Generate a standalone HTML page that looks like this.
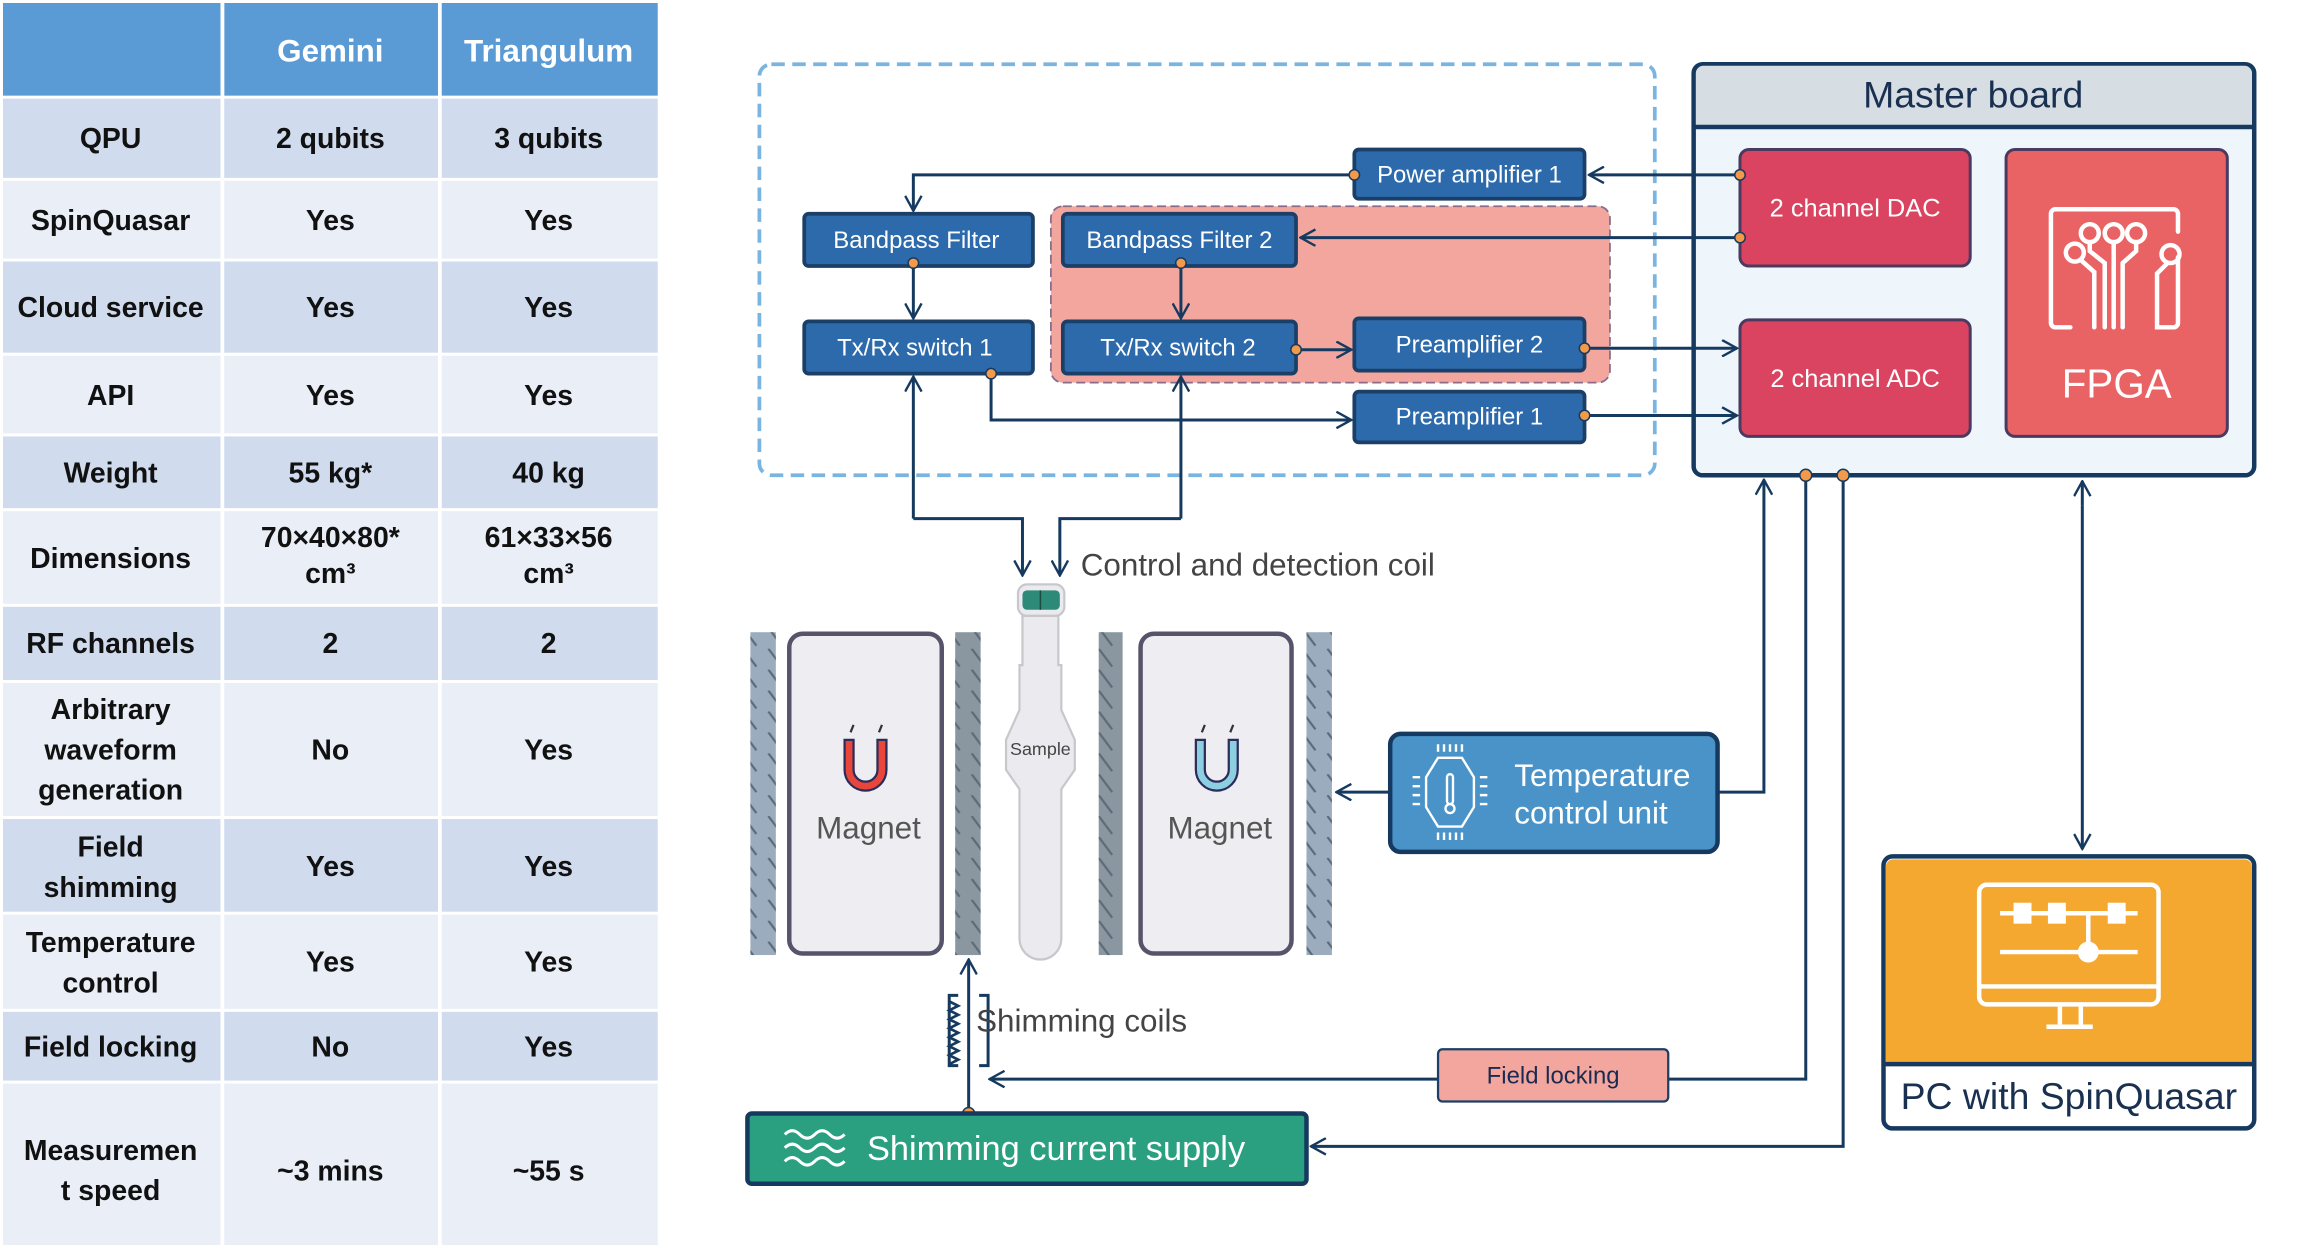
<!DOCTYPE html>
<html><head><meta charset="utf-8"><style>
html,body{margin:0;padding:0;background:#fff;}
svg{display:block;}
</style></head><body>
<svg width="2317" height="1245" viewBox="0 0 1550 833" preserveAspectRatio="none" xmlns="http://www.w3.org/2000/svg" font-family="Liberation Sans, sans-serif">
<defs>
<marker id="a" viewBox="0 0 12 12" refX="11" refY="6" markerWidth="12" markerHeight="12" markerUnits="userSpaceOnUse" orient="auto">
<path d="M1,0.5 L11,6 L1,11.5" fill="none" stroke="#163a5f" stroke-width="1.6"/></marker>
<pattern id="h" width="17" height="14" patternUnits="userSpaceOnUse"><path d="M4,0 L13,12" stroke="#5d6b78" stroke-width="1.5"/></pattern>
</defs>
<!-- TABLE -->
<g font-weight="bold" font-size="19" text-anchor="middle" fill="#111">
<rect x="2" y="2" width="146" height="62" fill="#5b9bd5"/><rect x="150" y="2" width="143" height="62" fill="#5b9bd5"/><rect x="295" y="2" width="145" height="62" fill="#5b9bd5"/>
<text x="221" y="41" fill="#fff" font-size="21">Gemini</text><text x="367" y="41" fill="#fff" font-size="21">Triangulum</text>
<g>
<rect x="2" y="66" width="438" height="53" fill="#d0dcee"/>
<rect x="2" y="121" width="438" height="52" fill="#e9eef7"/>
<rect x="2" y="175" width="438" height="61" fill="#d0dcee"/>
<rect x="2" y="238" width="438" height="52" fill="#e9eef7"/>
<rect x="2" y="292" width="438" height="48" fill="#d0dcee"/>
<rect x="2" y="342" width="438" height="62" fill="#e9eef7"/>
<rect x="2" y="406" width="438" height="49" fill="#d0dcee"/>
<rect x="2" y="457" width="438" height="89" fill="#e9eef7"/>
<rect x="2" y="548" width="438" height="62" fill="#d0dcee"/>
<rect x="2" y="612" width="438" height="63" fill="#e9eef7"/>
<rect x="2" y="677" width="438" height="46" fill="#d0dcee"/>
<rect x="2" y="725" width="438" height="115" fill="#e9eef7"/>
<rect x="147.5" y="0" width="2.5" height="840" fill="#fff"/><rect x="293" y="0" width="2.5" height="840" fill="#fff"/>
</g>
<text x="74" y="99">QPU</text><text x="221" y="99">2 qubits</text><text x="367" y="99">3 qubits</text>
<text x="74" y="154">SpinQuasar</text><text x="221" y="154">Yes</text><text x="367" y="154">Yes</text>
<text x="74" y="212">Cloud service</text><text x="221" y="212">Yes</text><text x="367" y="212">Yes</text>
<text x="74" y="271">API</text><text x="221" y="271">Yes</text><text x="367" y="271">Yes</text>
<text x="74" y="323">Weight</text><text x="221" y="323">55 kg*</text><text x="367" y="323">40 kg</text>
<text x="74" y="380">Dimensions</text><text x="221" y="366">70×40×80*</text><text x="221" y="390">cm³</text><text x="367" y="366">61×33×56</text><text x="367" y="390">cm³</text>
<text x="74" y="437">RF channels</text><text x="221" y="437">2</text><text x="367" y="437">2</text>
<text x="74" y="481">Arbitrary</text><text x="74" y="508">waveform</text><text x="74" y="535">generation</text><text x="221" y="508">No</text><text x="367" y="508">Yes</text>
<text x="74" y="573">Field</text><text x="74" y="600">shimming</text><text x="221" y="586">Yes</text><text x="367" y="586">Yes</text>
<text x="74" y="637">Temperature</text><text x="74" y="664">control</text><text x="221" y="650">Yes</text><text x="367" y="650">Yes</text>
<text x="74" y="707">Field locking</text><text x="221" y="707">No</text><text x="367" y="707">Yes</text>
<text x="74" y="776">Measuremen</text><text x="74" y="803">t speed</text><text x="221" y="790">~3 mins</text><text x="367" y="790">~55 s</text>
</g>

<!-- Dashed region -->
<rect x="508" y="43" width="599" height="275" rx="8" fill="none" stroke="#7ab4e0" stroke-width="2.5" stroke-dasharray="9,5"/>
<rect x="703" y="138" width="374" height="118" rx="8" fill="#f2a69d" stroke="#8a6d8a" stroke-width="1.2" stroke-dasharray="6,3"/>

<!-- Master board -->
<rect x="1133" y="43" width="375" height="275" rx="6" fill="#eef6fc" stroke="#163a5f" stroke-width="3"/>
<path d="M1134.5,85 V49 a5,5 0 0 1 5,-5 H1501.5 a5,5 0 0 1 5,5 V85 Z" fill="#d6dde3"/>
<line x1="1133" y1="85" x2="1508" y2="85" stroke="#163a5f" stroke-width="3"/>
<text x="1320" y="72" font-size="25" fill="#1a3050" text-anchor="middle">Master board</text>
<rect x="1164" y="100" width="154" height="78" rx="6" fill="#db4461" stroke="#4a3a5f" stroke-width="2"/>
<text x="1241" y="145" font-size="17" fill="#fff" text-anchor="middle">2 channel DAC</text>
<rect x="1164" y="214" width="154" height="78" rx="6" fill="#db4461" stroke="#4a3a5f" stroke-width="2"/>
<text x="1241" y="259" font-size="17" fill="#fff" text-anchor="middle">2 channel ADC</text>
<rect x="1342" y="100" width="148" height="192" rx="6" fill="#e96264" stroke="#4a3a5f" stroke-width="2"/>
<text x="1416" y="266" font-size="27" fill="#fff" text-anchor="middle">FPGA</text>
<g fill="none" stroke="#fff" stroke-width="3" stroke-linecap="round">
<path d="M1385,219 H1375 a3,3 0 0 1 -3,-3 V143 a3,3 0 0 1 3,-3 H1454 a3,3 0 0 1 3,3 V155"/>
<path d="M1457,172 V216 a3,3 0 0 1 -3,3 H1443 V183 L1450,176"/>
<circle cx="1388" cy="169" r="6"/><circle cx="1398" cy="156" r="6"/><circle cx="1414" cy="156" r="6"/><circle cx="1429" cy="156" r="6"/><circle cx="1452" cy="170" r="6"/>
<path d="M1392,174 L1401,182 V219 M1398,162 V168 L1408,176 V219 M1414,162 V219 M1429,162 V168 L1420,176 V219"/>
</g>

<!-- blue boxes -->
<g fill="#2c6aab" stroke="#1b3f66" stroke-width="2.5">
<rect x="906" y="100" width="154" height="33" rx="3"/>
<rect x="538" y="143" width="153" height="35" rx="3"/>
<rect x="711" y="143" width="156" height="35" rx="3"/>
<rect x="538" y="215" width="153" height="35" rx="3"/>
<rect x="711" y="215" width="156" height="35" rx="3"/>
<rect x="906" y="213" width="154" height="35" rx="3"/>
<rect x="906" y="262" width="154" height="34" rx="3"/>
</g>
<g fill="#fff" font-size="16" text-anchor="middle">
<text x="983" y="122">Power amplifier 1</text>
<text x="613" y="166">Bandpass Filter</text>
<text x="789" y="166">Bandpass Filter 2</text>
<text x="612" y="238">Tx/Rx switch 1</text>
<text x="788" y="238">Tx/Rx switch 2</text>
<text x="983" y="236">Preamplifier 2</text>
<text x="983" y="284">Preamplifier 1</text>
</g>

<!-- connectors -->
<g fill="none" stroke="#163a5f" stroke-width="2">
<path d="M1164,117 H1063" marker-end="url(#a)"/>
<path d="M906,117 H611 V141" marker-end="url(#a)"/>
<path d="M1164,159 H870" marker-end="url(#a)"/>
<path d="M611,176 V213" marker-end="url(#a)"/>
<path d="M790,176 V213" marker-end="url(#a)"/>
<path d="M867,234 H904" marker-end="url(#a)"/>
<path d="M1060,233 H1162" marker-end="url(#a)"/>
<path d="M663,250 V281 H904" marker-end="url(#a)"/>
<path d="M1060,278 H1162" marker-end="url(#a)"/>
<path d="M611,347 V252" marker-end="url(#a)"/>
<path d="M611,347 H684 V385" marker-end="url(#a)"/>
<path d="M790,347 V252" marker-end="url(#a)"/>
<path d="M790,347 H709 V385" marker-end="url(#a)"/>
<path d="M1150,530 H1180 V321" marker-end="url(#a)"/>
<path d="M1208,318 V722 H1116"/>
<path d="M962,722 H662" marker-end="url(#a)"/>
<path d="M1233,318 V767 H877" marker-end="url(#a)"/>
<path d="M1393,338 V568" marker-end="url(#a)"/>
<path d="M1393,338 V322" marker-end="url(#a)"/>
<path d="M930,530 H894" marker-end="url(#a)"/>
<path d="M648,745 V642" marker-end="url(#a)"/>
</g>
<g fill="#f39a4a" stroke="#163a5f" stroke-width="1">
<circle cx="1164" cy="117" r="3.5"/><circle cx="906" cy="117" r="3.5"/><circle cx="1164" cy="159" r="3.5"/>
<circle cx="611" cy="176" r="3.5"/><circle cx="790" cy="176" r="3.5"/><circle cx="867" cy="234" r="3.5"/>
<circle cx="1060" cy="233" r="3.5"/><circle cx="663" cy="250" r="3.5"/><circle cx="1060" cy="278" r="3.5"/>
<circle cx="1208" cy="318" r="4"/><circle cx="1233" cy="318" r="4"/><circle cx="648" cy="745" r="4"/>
</g>

<text x="723" y="385" font-size="21" fill="#444">Control and detection coil</text>

<!-- magnets -->
<g>
<rect x="502" y="423" width="17" height="216" fill="#9aacbd"/><rect x="502" y="423" width="17" height="216" fill="url(#h)"/>
<rect x="639" y="423" width="17" height="216" fill="#8a97a0"/><rect x="639" y="423" width="17" height="216" fill="url(#h)"/>
<rect x="735" y="423" width="16" height="216" fill="#8a97a0"/><rect x="735" y="423" width="16" height="216" fill="url(#h)"/>
<rect x="874" y="423" width="17" height="216" fill="#9aacbd"/><rect x="874" y="423" width="17" height="216" fill="url(#h)"/>
<rect x="528" y="424" width="102" height="214" rx="9" fill="#eeeef2" stroke="#56546a" stroke-width="3"/>
<rect x="763" y="424" width="101" height="214" rx="9" fill="#eeeef2" stroke="#56546a" stroke-width="3"/>
<text x="581" y="561" font-size="21" fill="#555" text-anchor="middle">Magnet</text>
<text x="816" y="561" font-size="21" fill="#555" text-anchor="middle">Magnet</text>
<path d="M565,495 V515 a14,14 0 0 0 28,0 V495 H587 V515 a8,8 0 0 1 -16,0 V495 Z" fill="#e8463a" stroke="#2c2c5a" stroke-width="1.5"/>
<path d="M800,495 V515 a14,14 0 0 0 28,0 V495 H822 V515 a8,8 0 0 1 -16,0 V495 Z" fill="#8ccfe0" stroke="#2c2c5a" stroke-width="1.5"/>
<path d="M571,485 l-2,5 M590,485 l-2,5 M806,485 l-2,5 M825,485 l-2,5" stroke="#333" stroke-width="1.5"/>
</g>
<!-- sample tube -->
<path d="M684,412 V445 H682 V475 L673,495 V515 L682,528 V628 a14,14 0 0 0 28,0 V528 L719,515 V495 L710,475 V445 H708 V412 Z" fill="#ebebef" stroke="#c8c8cc" stroke-width="1.5"/>
<rect x="681" y="391" width="31" height="21" rx="6" fill="#ebebef" stroke="#c8c8cc" stroke-width="1.5"/>
<rect x="684" y="395" width="25" height="13" rx="3" fill="#2e8a78"/>
<line x1="696" y1="395" x2="696" y2="408" stroke="#1a4a40" stroke-width="1"/>
<text x="696" y="505" font-size="12" fill="#444" text-anchor="middle">Sample</text>

<!-- shimming coils -->
<path d="M641,666 H635 V713 H641 M655,666 H661 V713 H655" fill="none" stroke="#163a5f" stroke-width="2"/>
<path d="M635,670 l6,3 -6,3 6,3 -6,3 6,3 -6,3 6,3 -6,3 6,3 -6,3 6,3 -6,3 6,3 -6,3" fill="none" stroke="#163a5f" stroke-width="1.8"/>
<text x="653" y="690" font-size="21" fill="#444">Shimming coils</text>

<!-- field locking -->
<rect x="962" y="702" width="154" height="35" rx="3" fill="#f2a69d" stroke="#1b3f66" stroke-width="1.5"/>
<text x="1039" y="725" font-size="16" fill="#1a2a50" text-anchor="middle">Field locking</text>

<!-- shimming current supply -->
<rect x="500" y="745" width="374" height="47" rx="3" fill="#2aa081" stroke="#163a5f" stroke-width="3"/>
<path d="M525,759 q5,-5 10,0 t10,0 t10,0 t10,0 M525,768 q5,-5 10,0 t10,0 t10,0 t10,0 M525,777 q5,-5 10,0 t10,0 t10,0 t10,0" fill="none" stroke="#fff" stroke-width="2"/>
<text x="580" y="776" font-size="23" fill="#fff">Shimming current supply</text>

<!-- TCU -->
<rect x="930" y="491" width="219" height="79" rx="7" fill="#4a93c8" stroke="#163a5f" stroke-width="3"/>
<g fill="none" stroke="#fff" stroke-width="1.6">
<path d="M962,507 H978 L986,520 V540 L978,553 H962 L954,540 V520 Z"/>
<path d="M962,503 v-5 M966,503 v-5 M970,503 v-5 M974,503 v-5 M978,503 v-5 M962,557 v5 M966,557 v5 M970,557 v5 M974,557 v5 M978,557 v5 M950,520 h-5 M950,526 h-5 M950,532 h-5 M950,538 h-5 M990,520 h5 M990,526 h5 M990,532 h5 M990,538 h5"/>
<rect x="968" y="518" width="4" height="20" rx="2"/><circle cx="970" cy="541" r="3"/>
</g>
<text x="1013" y="526" font-size="21" fill="#fff">Temperature</text>
<text x="1013" y="551" font-size="21" fill="#fff">control unit</text>

<!-- PC -->
<rect x="1260" y="573" width="248" height="182" rx="6" fill="#fff" stroke="#163a5f" stroke-width="3"/>
<path d="M1261.5,712 V580 a5,5 0 0 1 5,-5 H1501.5 a5,5 0 0 1 5,5 V712 Z" fill="#f4a82f"/>
<line x1="1260" y1="712" x2="1508" y2="712" stroke="#163a5f" stroke-width="3"/>
<g fill="none" stroke="#fff" stroke-width="3">
<rect x="1324" y="592" width="120" height="80" rx="5"/>
<line x1="1324" y1="660" x2="1444" y2="660"/>
<path d="M1378,672 V686 M1392,672 V686 M1369,687 H1400"/>
<path d="M1338,611 H1430 M1397,611 V637 M1338,637 H1430"/>
</g>
<g fill="#fff"><rect x="1347" y="604" width="12" height="14"/><rect x="1370" y="604" width="12" height="14"/><rect x="1410" y="604" width="12" height="14"/><circle cx="1397" cy="637" r="7"/></g>
<text x="1384" y="742" font-size="25" fill="#1a3050" text-anchor="middle">PC with SpinQuasar</text>
</svg>
</body></html>
